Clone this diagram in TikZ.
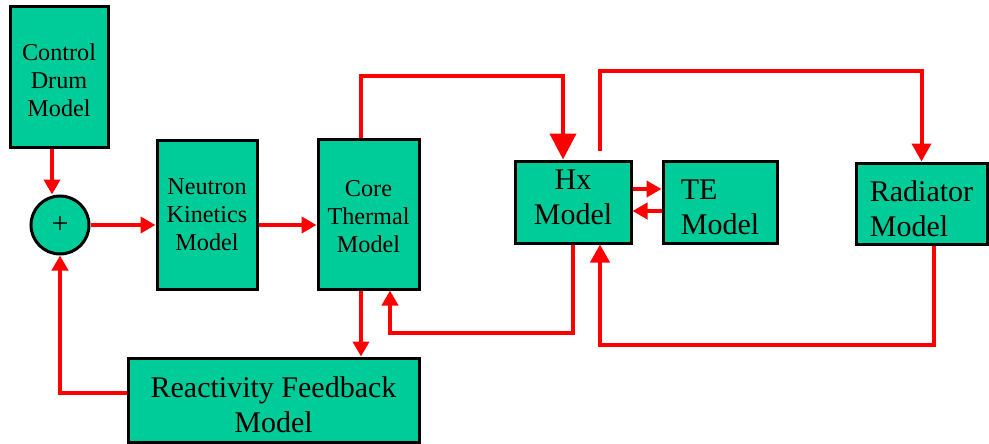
\documentclass[tikz,border=0pt]{standalone}
\usepackage{fontspec}
\setmainfont{Liberation Serif}
\usetikzlibrary{arrows.meta}
\definecolor{modelgreen}{RGB}{0,204,153}
\tikzset{
  box/.style={draw=black, line width=3pt, fill=modelgreen, inner sep=0pt, align=center},
  smalltext/.style={font=\fontsize{24.2}{28}\selectfont},
  largetext/.style={font=\fontsize{30}{35}\selectfont},
  link/.style={draw=red, line width=4pt, line join=miter, -{Triangle[width=16pt,length=15pt]}},
  bigtip/.style={-{Triangle[width=26pt,length=26pt]}},
  midtip/.style={-{Triangle[width=19pt,length=18pt]}}
}
\begin{document}
\begin{tikzpicture}[x=1pt, y=-1pt]
\useasboundingbox (0,0) rectangle (989,444);
% blocks
\node[box, minimum width=98pt, minimum height=140pt,
  label={[smalltext, align=center, yshift=-3pt]center:{Control\\Drum\\Model}}] (drum) at (59,77) {};
\node[box, circle, largetext, minimum size=58pt] (sum) at (60,225) {+};
\node[box, smalltext, minimum width=100pt, minimum height=149pt] (kin) at (207,214.5) {Neutron\\Kinetics\\Model};
\node[box, minimum width=101pt, minimum height=150pt,
  label={[smalltext, align=center, yshift=-3pt]center:{Core\\Thermal\\Model}}] (core) at (368.5,214) {};
\node[box, minimum width=116pt, minimum height=82pt,
  label={[largetext, align=center, yshift=5pt]center:{Hx\\Model}}] (hx) at (573,202) {};
\node[box, minimum width=114pt, minimum height=82pt,
  label={[largetext, align=left, yshift=-5pt]center:{TE\\Model}}] (te) at (720,202) {};
\node[box, minimum width=131pt, minimum height=81pt,
  label={[largetext, align=left, yshift=-5pt]center:{Radiator\\Model}}] (rad) at (921.5,203.5) {};
\node[box, minimum width=291pt, minimum height=84pt,
  label={[largetext, align=center, yshift=-5pt]center:{Reactivity Feedback\\Model}}] (feed) at (273.5,400) {};
% connectors
\draw[link] ([xshift=-7pt]drum.south) -- ([xshift=-7pt]drum.south |- sum.north);
\draw[link] (sum.east) -- (sum.east -| kin.west);
\draw[link] (sum.east -| kin.east) -- (sum.east -| core.west);
\draw[link, bigtip] ([xshift=-7.5pt]core.north) -- ++(0,-61) -| ([xshift=-10pt]hx.north);
\draw[link, midtip] ([xshift=27pt, yshift=9pt]hx.north) -- ++(0,-79) -| (rad.north);
\draw[link] ([yshift=13pt]hx.east) -- ([yshift=13pt]te.west);
\draw[link] ([yshift=-9pt]te.west) -- ([yshift=-9pt]hx.east);
\draw[link] (hx.south) -- ++(0,88) -| ([xshift=21.5pt]core.south);
\draw[link, midtip] ([xshift=12.5pt]rad.south) -- ++(0,99) -| ([xshift=27pt]hx.south);
\draw[link] ([xshift=-7.5pt]core.south) -- ([xshift=-7.5pt]core.south |- feed.north);
\draw[link] ([yshift=7pt]feed.west) -| (sum.south);
\end{tikzpicture}
\end{document}
